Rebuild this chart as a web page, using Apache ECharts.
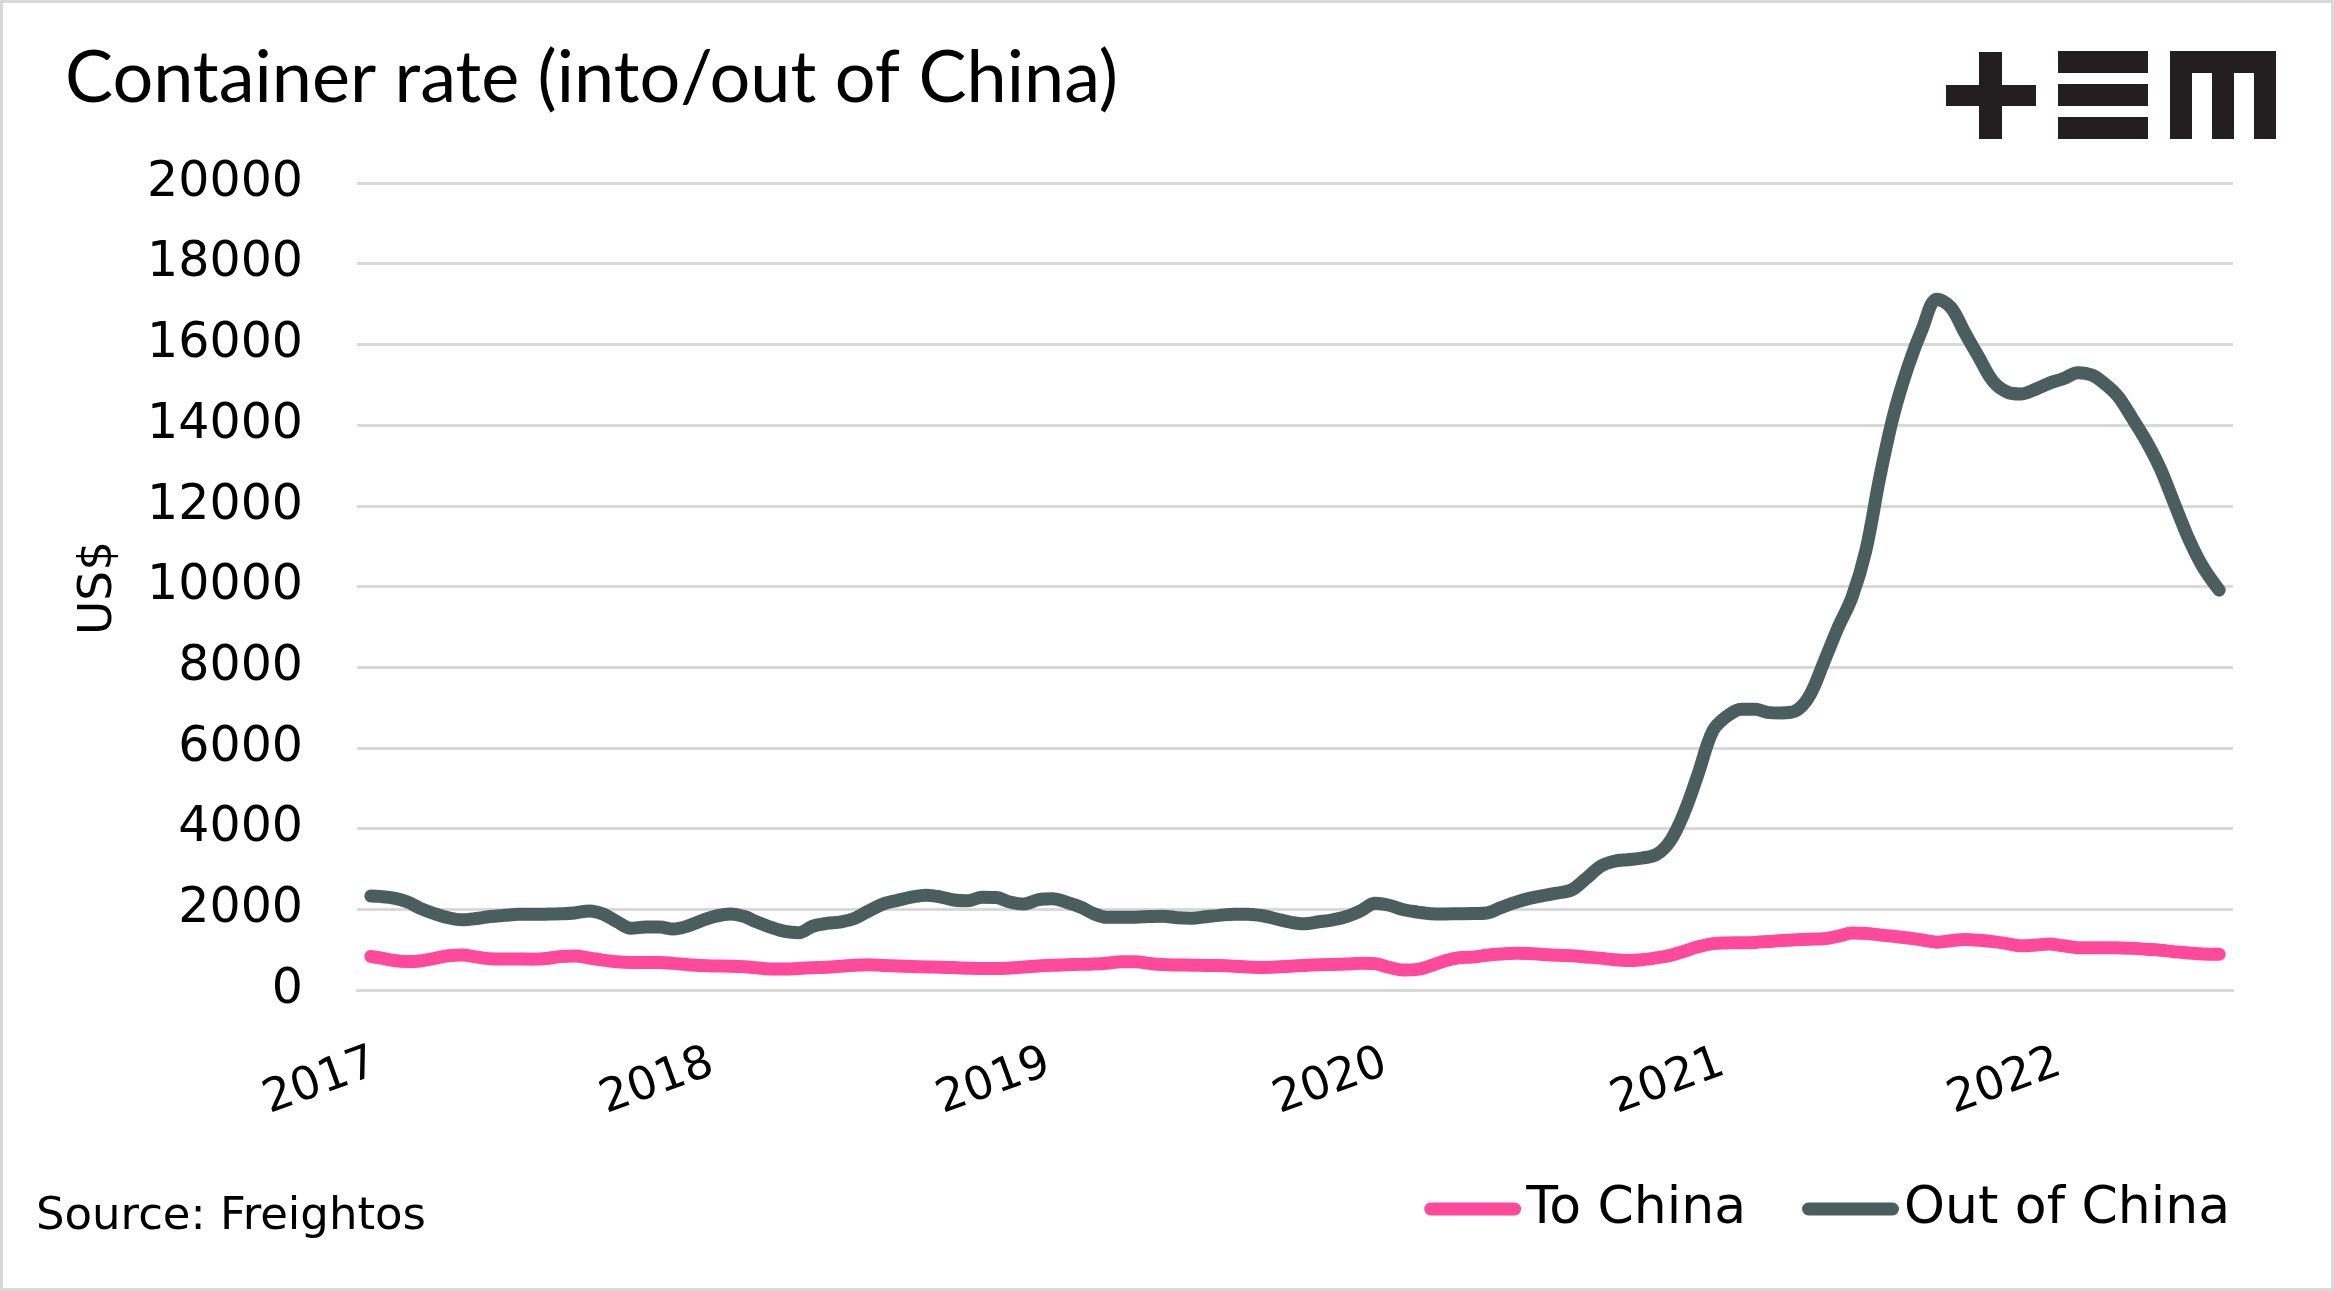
<!DOCTYPE html>
<html>
<head>
<meta charset="utf-8">
<script src="https://cdn.jsdelivr.net/npm/echarts@6/dist/echarts.min.js"></script>
<style>
  html, body { margin: 0; padding: 0; background: #ffffff; }
  #chart { width: 2334px; height: 1291px; }
</style>
</head>
<body>
<div id="chart"></div>
<script>
// ---- data ----
const dates = [
  '2017-01-07','2017-01-16','2017-02-01','2017-02-16','2017-03-01','2017-03-16','2017-04-01','2017-04-16','2017-05-01','2017-05-16','2017-06-01','2017-06-16',
  '2017-07-01','2017-07-16','2017-08-01','2017-08-16','2017-09-01','2017-09-16','2017-10-01','2017-10-16','2017-11-01','2017-11-16','2017-12-01','2017-12-16',
  '2018-01-01','2018-01-16','2018-02-01','2018-02-16','2018-03-01','2018-03-16','2018-04-01','2018-04-16','2018-05-01','2018-05-16','2018-06-01','2018-06-16',
  '2018-07-01','2018-07-16','2018-08-01','2018-08-16','2018-09-01','2018-09-16','2018-10-01','2018-10-16','2018-11-01','2018-11-16','2018-12-01','2018-12-16',
  '2019-01-01','2019-01-16','2019-02-01','2019-02-16','2019-03-01','2019-03-16','2019-04-01','2019-04-16','2019-05-01','2019-05-16','2019-06-01','2019-06-16',
  '2019-07-01','2019-07-16','2019-08-01','2019-08-16','2019-09-01','2019-09-16','2019-10-01','2019-10-16','2019-11-01','2019-11-16','2019-12-01','2019-12-16',
  '2020-01-01','2020-01-16','2020-02-01','2020-02-16','2020-03-01','2020-03-16','2020-04-01','2020-04-16','2020-05-01','2020-05-16','2020-06-01','2020-06-16',
  '2020-07-01','2020-07-16','2020-08-01','2020-08-16','2020-09-01','2020-09-16','2020-10-01','2020-10-16','2020-11-01','2020-11-16','2020-12-01','2020-12-16',
  '2021-01-01','2021-01-16','2021-02-01','2021-02-16','2021-03-01','2021-03-16','2021-04-01','2021-04-16','2021-05-01','2021-05-16','2021-06-01','2021-06-16',
  '2021-07-01','2021-07-16','2021-08-01','2021-08-16','2021-09-01','2021-09-16','2021-10-01','2021-10-16','2021-11-01','2021-11-16','2021-12-01','2021-12-16',
  '2022-01-01','2022-01-16','2022-02-01','2022-02-16','2022-03-01','2022-03-16','2022-04-01','2022-04-16','2022-05-01','2022-05-16','2022-06-01','2022-06-16',
  '2022-07-04'
];

const toChina = [
  830, 800, 730, 705, 720, 780, 850, 870, 820, 775, 770, 770,
  765, 780, 830, 845, 790, 740, 700, 683, 683, 680, 660, 630,
  605, 595, 590, 575, 550, 520, 520, 535, 550, 565, 590, 615,
  625, 610, 595, 580, 570, 565, 555, 540, 530, 530, 545, 570,
  595, 615, 625, 635, 645, 665, 700, 700, 660, 630, 620, 615,
  610, 605, 590, 570, 560, 570, 590, 610, 625, 635, 645, 660,
  650, 560, 495, 510, 600, 720, 800, 815, 860, 890, 910, 905,
  880, 860, 850, 820, 790, 750, 730, 750, 800, 860, 960, 1070,
  1150, 1165, 1170, 1180, 1200, 1225, 1245, 1260, 1270, 1330, 1410, 1400,
  1365, 1330, 1290, 1240, 1185, 1220, 1250, 1235, 1200, 1150, 1095, 1110,
  1140, 1095, 1050, 1045, 1050, 1045, 1035, 1010, 985, 950, 915, 895,
  885
];

const outOfChina = [
  2330, 2320, 2280, 2180, 2030, 1900, 1790, 1740, 1770, 1820, 1850, 1875,
  1875, 1880, 1890, 1910, 1960, 1880, 1690, 1530, 1560, 1560, 1510, 1580,
  1720, 1830, 1885, 1820, 1690, 1560, 1450, 1420, 1580, 1650, 1690, 1780,
  1960, 2130, 2220, 2300, 2350, 2310, 2230, 2210, 2300, 2290, 2180, 2130,
  2240, 2260, 2170, 2050, 1900, 1800, 1800, 1805, 1820, 1830, 1790, 1780,
  1815, 1850, 1880, 1880, 1840, 1760, 1680, 1640, 1690, 1740, 1820, 1960,
  2150, 2100, 1990, 1930, 1890, 1885, 1890, 1895, 1910, 2040, 2170, 2270,
  2340, 2400, 2480, 2750, 3060, 3190, 3230, 3270, 3360, 3700, 4400, 5350,
  6420, 6780, 6960, 6960, 6880, 6865, 6920, 7300, 8100, 8940, 9740, 10900,
  12700, 14250, 15470, 16380, 17120, 16920, 16300, 15700, 15080, 14820, 14770, 14880,
  15040, 15150, 15300, 15240, 15040, 14720, 14160, 13600, 12930, 12080, 11180, 10500,
  9910
];

// year labels (anchored a little after 1 January, as in the reference)
const yearTicks = ['2017-01-12','2018-01-12','2019-01-12','2020-01-12','2021-01-12','2022-01-12'];
const yTicks = { min: 0, max: 20000, step: 2000 };

const titleText = 'Container rate (into/out of China)';
const sourceText = 'Source: Freightos';
const yName = 'US$';
const seriesNames = ['To China', 'Out of China'];
const seriesColors = ['#ff4a9b', '#4b5e5f'];

// ---- chart ----
const ts = s => { const p = s.split('-').map(Number); return Date.UTC(p[0], p[1] - 1, p[2]); };
const chart = echarts.init(document.getElementById('chart'), null, { renderer: 'canvas' });

const capsule = 'path://M6.5,0H90.5A6.5,6.5,0,0,1,90.5,13H6.5A6.5,6.5,0,0,1,6.5,0Z';
const logoColor = '#231f20';

chart.setOption({
  animation: false,
  backgroundColor: '#ffffff',
  color: seriesColors,
  grid: { left: 357, right: 101, top: 183, bottom: 301, containLabel: false },
  xAxis: {
    type: 'value',
    min: ts('2016-12-23'),
    max: ts('2022-07-19'),
    axisLine: { show: true, onZero: false, lineStyle: { color: '#d9d9d9', width: 3 } },
    axisTick: { show: false },
    splitLine: { show: false },
    axisLabel: {
      customValues: yearTicks.map(ts),
      formatter: v => String(new Date(v).getUTCFullYear()),
      rotate: 20,
      margin: 72,
      fontFamily: 'DejaVu Sans',
      fontSize: 46,
      color: '#000000'
    }
  },
  yAxis: {
    type: 'value',
    min: yTicks.min,
    max: yTicks.max,
    interval: yTicks.step,
    axisLine: { show: false },
    axisTick: { show: false },
    splitLine: { show: true, lineStyle: { color: '#d9d9d9', width: 3 } },
    axisLabel: {
      margin: 54,
      formatter: v => String(v),
      fontFamily: 'DejaVu Sans',
      fontSize: 49,
      color: '#000000'
    }
  },
  legend: {
    show: true,
    right: 104,
    top: 1183,
    padding: 0,
    itemGap: 56,
    itemWidth: 97,
    itemHeight: 13,
    icon: capsule,
    textStyle: { fontFamily: 'DejaVu Sans', fontSize: 52, color: '#000000' },
    data: seriesNames
  },
  series: [
    {
      name: seriesNames[0],
      type: 'line',
      data: dates.map((d, i) => [ts(d), toChina[i]]),
      showSymbol: false,
      smooth: 0.35,
      lineStyle: { width: 13, color: seriesColors[0], cap: 'round', join: 'round' },
      itemStyle: { color: seriesColors[0] },
      z: 3
    },
    {
      name: seriesNames[1],
      type: 'line',
      data: dates.map((d, i) => [ts(d), outOfChina[i]]),
      showSymbol: false,
      smooth: 0.35,
      lineStyle: { width: 13, color: seriesColors[1], cap: 'round', join: 'round' },
      itemStyle: { color: seriesColors[1] },
      z: 4
    }
  ],
  graphic: [
    { type: 'rect', shape: { x: 1.5, y: 1.5, width: 2331, height: 1288 }, style: { fill: 'none', stroke: '#d9d9d9', lineWidth: 3 }, silent: true },
    { type: 'text', x: 65, y: 79, style: { text: titleText, fontFamily: 'Lato', fontSize: 72, fill: '#000000', align: 'left', verticalAlign: 'middle' } },
    { type: 'text', x: 36, y: 1217, style: { text: sourceText, fontFamily: 'DejaVu Sans', fontSize: 45, fill: '#000000', align: 'left', verticalAlign: 'middle' } },
    { type: 'text', x: 99, y: 588, rotation: Math.PI / 2, style: { text: yName, fontFamily: 'DejaVu Sans', fontSize: 47, fill: '#000000', align: 'center', verticalAlign: 'middle' } },
    // logo
    { type: 'rect', shape: { x: 1979, y: 52, width: 23, height: 87 }, style: { fill: logoColor } },
    { type: 'rect', shape: { x: 1946, y: 85, width: 90, height: 21 }, style: { fill: logoColor } },
    { type: 'rect', shape: { x: 2058, y: 51, width: 90, height: 22 }, style: { fill: logoColor } },
    { type: 'rect', shape: { x: 2058, y: 84, width: 90, height: 22 }, style: { fill: logoColor } },
    { type: 'rect', shape: { x: 2058, y: 117, width: 90, height: 22 }, style: { fill: logoColor } },
    { type: 'rect', shape: { x: 2170, y: 51, width: 106, height: 22 }, style: { fill: logoColor } },
    { type: 'rect', shape: { x: 2170, y: 51, width: 22, height: 88 }, style: { fill: logoColor } },
    { type: 'rect', shape: { x: 2212, y: 51, width: 22, height: 88 }, style: { fill: logoColor } },
    { type: 'rect', shape: { x: 2254, y: 51, width: 22, height: 88 }, style: { fill: logoColor } }
  ]
});
</script>
</body>
</html>
